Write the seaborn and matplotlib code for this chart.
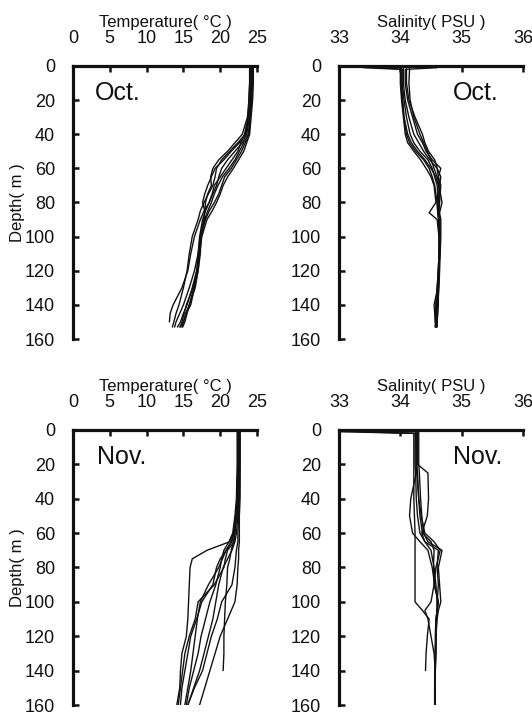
import numpy as np
import pandas as pd
import matplotlib
matplotlib.use("Agg")
import matplotlib.pyplot as plt
import seaborn as sns

sns.set_style("white")
plt.rcParams["font.family"] = ["Liberation Sans", "DejaVu Sans"]

# ---------------- October temperature profiles (°C) ----------------
oct_temp_depth = [0, 10, 20, 30, 40, 45, 50, 55, 60, 65, 70, 75, 80, 85, 90,
                  100, 110, 120, 130, 140, 145, 150, 153]
oct_temp_casts = [
    [24.3, 24.3, 24.2, 24.0, 23.6, 23.0, 22.0, 21.0, 20.2, 19.8, 19.5, 19.0, 18.5, 18.0, 17.6,
     17.2, 17.0, 16.8, 16.2, 15.5, 15.0, 14.6, 14.2],
    [24.0, 24.0, 23.9, 23.7, 23.0, 22.0, 21.0, 19.8, 19.0, 18.7, 18.8, 18.3, 18.0, 17.9, 17.8,
     17.3, 17.0, 16.5, 15.8, 15.0, 14.5, 14.0, 13.8],
    [24.5, 24.5, 24.4, 24.2, 24.0, 23.6, 23.2, 22.5, 21.8, 21.0, 20.4, 20.0, 19.5, 18.9, 18.2,
     17.5, 17.2, 17.0, 16.5, 16.0, 15.4, 15.0, 14.8],
    [24.2, 24.2, 24.1, 23.9, 23.5, 22.6, 21.5, 20.5, 19.3, 18.8, 18.3, 17.9, 17.6, 17.9, 17.8,
     17.4, 17.2, 16.8, 16.4, 15.8, 15.3, 15.0, 14.5],
    [24.1, 24.1, 24.0, 23.8, 23.3, 22.8, 22.4, 21.6, 20.8, 20.0, 19.2, 18.9, 18.5, 17.8, 17.3,
     16.5, 16.0, 15.6, 14.8, 13.6, 13.2, 13.1, None],
    [24.4, 24.4, 24.3, 24.1, 23.8, 23.2, 22.6, 22.0, 21.2, 20.3, 19.7, 19.2, 18.8, 18.3, 17.9,
     17.4, 17.3, 17.0, 16.6, 15.8, 15.5, 15.2, 14.9],
    [24.0, 24.0, 23.9, 23.8, 23.4, 22.4, 21.3, 20.2, 19.5, 19.3, 19.0, 18.4, 17.8, 17.3, 17.0,
     16.2, 15.8, 15.5, 15.0, 14.4, 14.0, 13.7, 13.5],
    [24.3, 24.3, 24.2, 24.1, 23.9, 23.4, 22.9, 22.2, 21.5, 20.6, 20.2, 19.8, 19.2, 18.5, 18.0,
     17.3, 17.1, 16.9, 16.3, 15.4, 15.1, 14.8, 14.6],
]

# ---------------- October salinity profiles (PSU) ----------------
oct_sal_depth = [1, 2, 10, 20, 30, 40, 45, 50, 55, 60, 65, 70, 80, 86, 90,
                 100, 110, 120, 130, 140, 150, 153]
oct_sal_casts = [
    [33.40, 34.02, 34.02, 34.04, 34.06, 34.10, 34.15, 34.25, 34.38, 34.47, 34.52, 34.56, 34.60, 34.61, 34.63,
     34.64, 34.64, 34.63, 34.62, 34.60, 34.58, 34.58],
    [34.00, 34.00, 34.00, 34.02, 34.05, 34.08, 34.12, 34.22, 34.33, 34.42, 34.50, 34.55, 34.58, 34.47, 34.60,
     34.63, 34.63, 34.62, 34.61, 34.55, 34.57, 34.57],
    [34.60, 34.08, 34.08, 34.12, 34.20, 34.28, 34.36, 34.42, 34.52, 34.66, 34.62, 34.64, 34.63, 34.62, 34.64,
     34.65, 34.64, 34.63, 34.61, 34.59, 34.58, 34.57],
    [34.05, 34.05, 34.05, 34.08, 34.14, 34.22, 34.30, 34.38, 34.48, 34.60, 34.66, 34.64, 34.62, 34.63, 34.64,
     34.65, 34.64, 34.62, 34.60, 34.58, 34.58, 34.58],
    [34.10, 34.10, 34.10, 34.14, 34.24, 34.36, 34.40, 34.46, 34.56, 34.60, 34.62, 34.66, 34.64, 34.63, 34.63,
     34.64, 34.63, 34.62, 34.61, 34.60, 34.59, 34.59],
    [33.70, 34.03, 34.03, 34.06, 34.10, 34.16, 34.22, 34.32, 34.45, 34.52, 34.56, 34.60, 34.62, 34.62, 34.64,
     34.64, 34.64, 34.63, 34.62, 34.62, 34.60, 34.60],
    [34.15, 34.15, 34.14, 34.16, 34.22, 34.32, 34.38, 34.44, 34.50, 34.55, 34.60, 34.63, 34.68, 34.64, 34.66,
     34.66, 34.65, 34.64, 34.63, 34.61, 34.60, 34.59],
    [34.02, 34.02, 34.01, 34.03, 34.06, 34.12, 34.18, 34.28, 34.40, 34.50, 34.58, 34.62, 34.60, 34.61, 34.62,
     34.63, 34.63, 34.62, 34.60, 34.58, 34.57, None],
]

# ---------------- November temperature profiles (°C) ----------------
nov_temp_depth = [0, 20, 40, 50, 60, 65, 70, 75, 80, 90, 100, 110, 120, 130, 140, 150, 160]
nov_temp_casts = [
    [22.6, 22.6, 22.5, 22.3, 21.8, 21.3, 18.2, 16.2, 15.9, 15.8, 15.7, 15.6, 15.4, 14.8, 14.6, 14.5, 14.1],
    [22.7, 22.7, 22.7, 22.6, 22.6, 22.6, 22.5, 22.5, 22.4, 22.3, 22.0, 21.0, 20.0, 19.3, 18.6, 17.9, 17.2],
    [22.4, 22.4, 22.3, 22.2, 22.0, 21.8, 21.5, 21.3, 21.0, 20.9, 20.7, 20.6, 20.5, 20.5, 20.4, None, None],
    [22.5, 22.5, 22.4, 22.2, 21.9, 21.5, 20.8, 20.0, 19.5, 19.0, 17.5, 16.8, 16.0, 15.6, 15.2, 14.8, 14.6],
    [22.3, 22.3, 22.2, 22.0, 21.7, 21.2, 20.5, 20.2, 20.0, 19.4, 18.6, 18.0, 17.4, 17.0, 16.4, 15.8, 15.4],
    [22.6, 22.6, 22.5, 22.4, 22.2, 22.0, 21.6, 21.0, 20.4, 19.8, 19.4, 19.0, 18.4, 17.8, 17.2, 16.4, 15.6],
    [22.5, 22.5, 22.4, 22.2, 22.0, 21.9, 21.0, 20.7, 20.5, 19.2, 17.0, 16.6, 15.8, 15.2, 14.9, 14.6, 14.3],
    [22.4, 22.4, 22.3, 22.1, 21.8, 21.6, 20.8, 20.3, 19.8, 18.4, 17.3, 16.9, 16.6, 16.3, 16.0, 15.6, 15.2],
    [22.7, 22.7, 22.6, 22.5, 22.4, 22.4, 22.2, 22.1, 22.0, 21.6, 20.2, 19.6, 18.8, 18.2, 17.6, 16.5, 15.6],
]

# ---------------- November salinity profiles (PSU) ----------------
nov_sal_depth = [1, 2, 20, 25, 40, 50, 60, 65, 70, 80, 90, 100, 105, 110, 120, 130, 140, 150, 160]
nov_sal_casts = [
    [33.00, 34.24, 34.24, 34.25, 34.26, 34.28, 34.32, 34.40, 34.62, 34.60, 34.62, 34.60, 34.60, 34.58, 34.57, 34.57, 34.56, 34.56, 34.56],
    [33.60, 34.22, 34.22, 34.22, 34.22, 34.23, 34.24, 34.24, 34.24, 34.24, 34.24, 34.24, 34.36, 34.47, 34.44, 34.42, 34.41, None, None],
    [34.28, 34.28, 34.28, 34.45, 34.46, 34.44, 34.35, 34.40, 34.50, 34.55, 34.58, 34.60, 34.60, 34.59, 34.58, 34.57, 34.57, 34.56, 34.56],
    [34.25, 34.25, 34.26, 34.26, 34.17, 34.15, 34.20, 34.32, 34.45, 34.52, 34.56, 34.62, 34.60, 34.58, 34.58, 34.57, 34.57, 34.56, 34.56],
    [34.30, 34.30, 34.30, 34.31, 34.33, 34.35, 34.38, 34.45, 34.68, 34.62, 34.64, 34.66, 34.62, 34.60, 34.58, 34.58, 34.57, 34.56, 34.56],
    [33.30, 34.26, 34.26, 34.27, 34.30, 34.32, 34.36, 34.50, 34.55, 34.54, 34.55, 34.50, 34.40, 34.45, 34.50, 34.55, 34.57, 34.56, 34.56],
    [34.27, 34.27, 34.27, 34.28, 34.30, 34.34, 34.40, 34.55, 34.65, 34.58, 34.55, 34.62, 34.60, 34.59, 34.58, 34.58, 34.57, 34.57, 34.57],
]

temp_ticks = [0, 5, 10, 15, 20, 25]
sal_ticks = [33, 34, 35, 36]
depth_ticks = [0, 20, 40, 60, 80, 100, 120, 140, 160]


def to_long(depths, casts):
    rows = []
    for i, cast in enumerate(casts):
        for d, v in zip(depths, cast):
            if v is not None:
                rows.append({"cast": i, "depth": d, "value": v})
    return pd.DataFrame(rows)


fig = plt.figure(figsize=(5.32, 7.14), dpi=100)
fig.patch.set_facecolor("white")

panels = [
    # (rect, depths, casts, xlim, xticks, xlabel, month, month_pos, ha, show_ylabel)
    ([0.1372, 0.5252, 0.3459, 0.3824], oct_temp_depth, oct_temp_casts, (0, 25), temp_ticks,
     "Temperature( °C )", "Oct.", (0.12, 0.945), "left", True),
    ([0.6372, 0.5252, 0.3459, 0.3824], oct_sal_depth, oct_sal_casts, (33, 36), sal_ticks,
     "Salinity( PSU )", "Oct.", (0.87, 0.945), "right", False),
    ([0.1372, 0.0126, 0.3459, 0.3852], nov_temp_depth, nov_temp_casts, (0, 25), temp_ticks,
     "Temperature( °C )", "Nov.", (0.13, 0.945), "left", True),
    ([0.6372, 0.0126, 0.3459, 0.3852], nov_sal_depth, nov_sal_casts, (33, 36), sal_ticks,
     "Salinity( PSU )", "Nov.", (0.89, 0.945), "right", False),
]

ink = "#111111"
for rect, depths, casts, xlim, xticks, xlabel, month, mpos, ha, ylab in panels:
    ax = fig.add_axes(rect)
    df = to_long(depths, casts)
    sns.lineplot(data=df, x="value", y="depth", units="cast", estimator=None,
                 sort=False, orient="y", color=ink, linewidth=1.0, ax=ax)
    ax.set_xlim(*xlim)
    ax.set_ylim(160, 0)
    ax.set_xticks(xticks)
    ax.set_yticks(depth_ticks)
    ax.xaxis.tick_top()
    ax.xaxis.set_label_position("top")
    ax.set_xlabel(xlabel, fontsize=12, labelpad=2, color=ink)
    if ylab:
        ax.set_ylabel("Depth( m )", fontsize=12, labelpad=0, color=ink)
    else:
        ax.set_ylabel("")
    for side in ("bottom", "right"):
        ax.spines[side].set_visible(False)
    for side in ("top", "left"):
        ax.spines[side].set_linewidth(2.3)
        ax.spines[side].set_color(ink)
    ax.tick_params(axis="x", which="both", top=True, bottom=False, direction="in",
                   length=4, width=1.8, pad=14, labelsize=13, color=ink, labelcolor=ink)
    ax.tick_params(axis="y", which="both", left=True, right=False, direction="in",
                   length=4, width=1.8, pad=13, labelsize=13, color=ink, labelcolor=ink)
    ax.text(mpos[0], mpos[1], month, transform=ax.transAxes, fontsize=18,
            ha=ha, va="top", color=ink)
    ax.set_facecolor("white")

fig.savefig("out.png", dpi=100, facecolor="white")
